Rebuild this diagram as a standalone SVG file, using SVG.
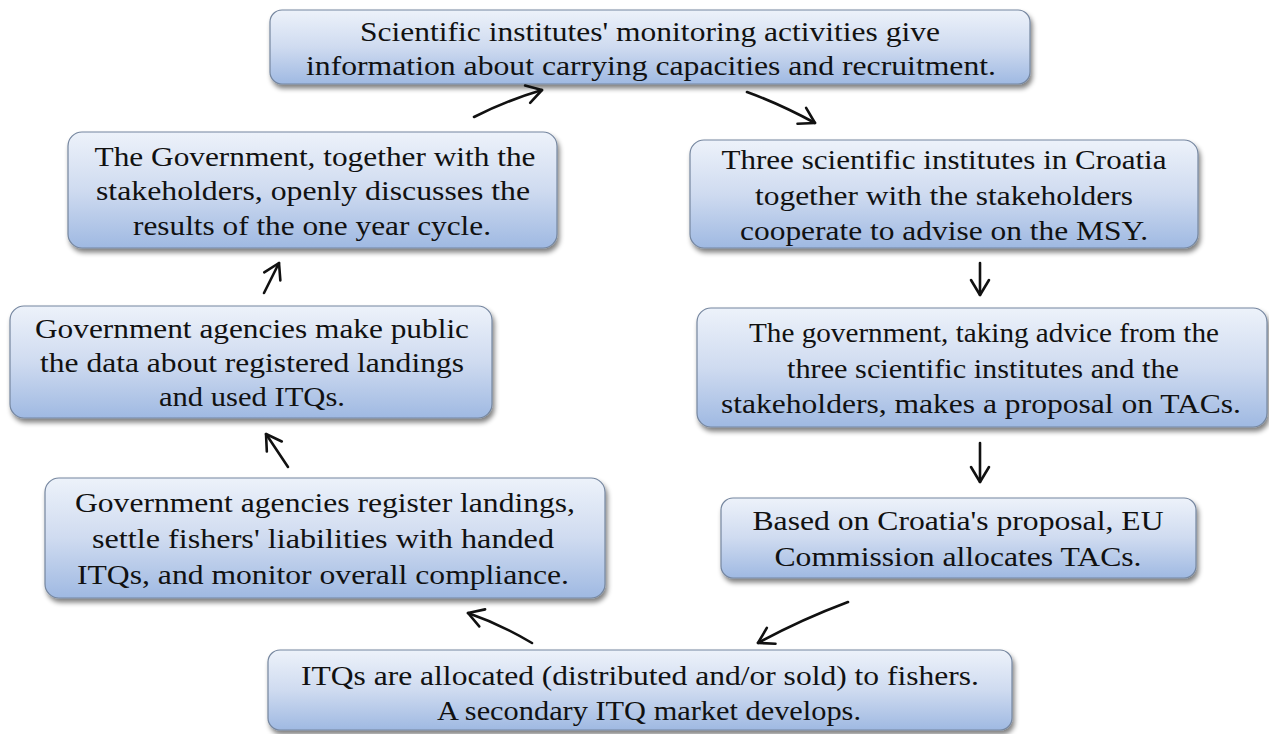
<svg xmlns="http://www.w3.org/2000/svg" width="1269" height="734" viewBox="0 0 1269 734">
<defs>
<linearGradient id="g" x1="0" y1="0" x2="0" y2="1">
<stop offset="0" stop-color="#edf2fa"/>
<stop offset="0.5" stop-color="#cfdbf0"/>
<stop offset="1" stop-color="#9fb9e2"/>
</linearGradient>
<filter id="sh" x="-5%" y="-10%" width="112%" height="130%">
<feGaussianBlur in="SourceAlpha" stdDeviation="2.5"/>
<feOffset dx="2" dy="4" result="b"/>
<feComponentTransfer><feFuncA type="linear" slope="0.5"/></feComponentTransfer>
<feMerge><feMergeNode/><feMergeNode in="SourceGraphic"/></feMerge>
</filter>
<marker id="ah" viewBox="0 0 22 22" refX="20" refY="11" markerWidth="22" markerHeight="22" markerUnits="userSpaceOnUse" orient="auto">
<path d="M5,2 L20,11 L5,20" fill="none" stroke="#111" stroke-width="2.6" stroke-linecap="round" stroke-linejoin="round"/>
</marker>
</defs>
<style>
.box{fill:url(#g);stroke:#75869f;stroke-width:1.2;filter:url(#sh)}
.t{font-family:'Times New Roman','Liberation Serif','DejaVu Serif',serif;font-size:27px;fill:#111;text-anchor:middle}
.ar{fill:none;stroke:#111;stroke-width:2.6;stroke-linecap:round;marker-end:url(#ah)}
</style>
<rect width="1269" height="734" fill="#fff"/>
<g id="n1"><rect class="box" x="270" y="10" width="760" height="74" rx="12"/>
<text class="t" x="650" y="41" textLength="580" lengthAdjust="spacingAndGlyphs">Scientific institutes' monitoring activities give</text>
<text class="t" x="651" y="75" textLength="690" lengthAdjust="spacingAndGlyphs">information about carrying capacities and recruitment.</text></g>
<g id="n2"><rect class="box" x="690" y="140" width="508" height="108" rx="14"/>
<text class="t" x="944" y="169" textLength="445" lengthAdjust="spacingAndGlyphs">Three scientific institutes in Croatia</text>
<text class="t" x="944" y="205" textLength="378" lengthAdjust="spacingAndGlyphs">together with the stakeholders</text>
<text class="t" x="944" y="240" textLength="408" lengthAdjust="spacingAndGlyphs">cooperate to advise on the MSY.</text></g>
<g id="n3"><rect class="box" x="697" y="308" width="570" height="119" rx="14"/>
<text class="t" x="984" y="342" textLength="470" lengthAdjust="spacingAndGlyphs">The government, taking advice from the</text>
<text class="t" x="983" y="378" textLength="392" lengthAdjust="spacingAndGlyphs">three scientific institutes and the</text>
<text class="t" x="981" y="413" textLength="520" lengthAdjust="spacingAndGlyphs">stakeholders, makes a proposal on TACs.</text></g>
<g id="n4"><rect class="box" x="721" y="498" width="475" height="80" rx="12"/>
<text class="t" x="958" y="530" textLength="411" lengthAdjust="spacingAndGlyphs">Based on Croatia's proposal, EU</text>
<text class="t" x="958" y="566" textLength="367" lengthAdjust="spacingAndGlyphs">Commission allocates TACs.</text></g>
<g id="n5"><rect class="box" x="268" y="650" width="744" height="80" rx="12"/>
<text class="t" x="640" y="685" textLength="678" lengthAdjust="spacingAndGlyphs">ITQs are allocated (distributed and/or sold) to fishers.</text>
<text class="t" x="649" y="720" textLength="424" lengthAdjust="spacingAndGlyphs">A secondary ITQ market develops.</text></g>
<g id="n6"><rect class="box" x="45" y="478" width="560" height="120" rx="14"/>
<text class="t" x="325" y="512" textLength="500" lengthAdjust="spacingAndGlyphs">Government agencies register landings,</text>
<text class="t" x="323" y="548" textLength="462" lengthAdjust="spacingAndGlyphs">settle fishers' liabilities with handed</text>
<text class="t" x="323" y="584" textLength="492" lengthAdjust="spacingAndGlyphs">ITQs, and monitor overall compliance.</text></g>
<g id="n7"><rect class="box" x="10" y="306" width="482" height="112" rx="14"/>
<text class="t" x="252" y="338" textLength="434" lengthAdjust="spacingAndGlyphs">Government agencies make public</text>
<text class="t" x="252" y="372" textLength="424" lengthAdjust="spacingAndGlyphs">the data about registered landings</text>
<text class="t" x="252" y="406" textLength="186" lengthAdjust="spacingAndGlyphs">and used ITQs.</text></g>
<g id="n8"><rect class="box" x="68" y="132" width="489" height="116" rx="14"/>
<text class="t" x="315" y="166" textLength="441" lengthAdjust="spacingAndGlyphs">The Government, together with the</text>
<text class="t" x="313" y="200" textLength="434" lengthAdjust="spacingAndGlyphs">stakeholders, openly discusses the</text>
<text class="t" x="312" y="235" textLength="358" lengthAdjust="spacingAndGlyphs">results of the one year cycle.</text></g>
<g id="connectors">
<path class="ar" d="M747,92 Q780,104 815,123"/>
<path class="ar" d="M980,263 L980,295"/>
<path class="ar" d="M980,443 L980,482"/>
<path class="ar" d="M848,602 Q800,620 758,643"/>
<path class="ar" d="M532,643 Q500,624 468,613"/>
<path class="ar" d="M288,467 L266,434"/>
<path class="ar" d="M264,293 L279,263"/>
<path class="ar" d="M474,117 Q508,100 542,90"/>
</g>
</svg>
